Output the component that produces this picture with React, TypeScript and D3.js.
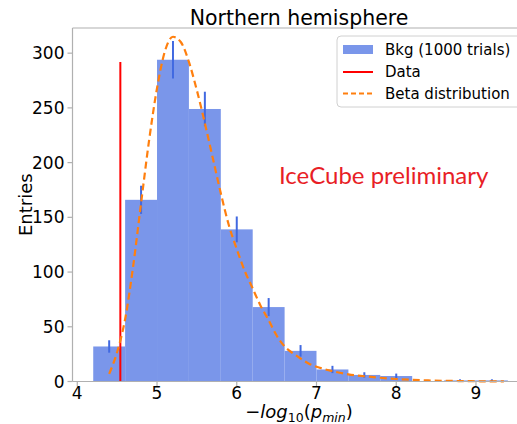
import React from "react";
import * as d3 from "d3";

// Histogram of background trials (bin edges and counts)
const binEdges = [4.2, 4.6, 5.0, 5.4, 5.8, 6.2, 6.6, 7.0, 7.4, 7.8, 8.2, 8.6, 9.0, 9.4];
const binCounts = [32, 166, 294, 249, 139, 68, 28, 11, 6, 5, 0, 1, 1];

// Observed data value
const dataX = 4.54;
const dataHeight = 292;

// Beta distribution curve, sampled
const betaX = [4.4, 4.5, 4.6, 4.7, 4.8, 4.9, 5.0, 5.1, 5.2, 5.3, 5.4, 5.5, 5.6, 5.7, 5.8, 5.9, 6.0, 6.1, 6.2, 6.3, 6.4, 6.5, 6.6, 6.7, 6.8, 6.9, 7.0, 7.2, 7.4, 7.6, 7.8, 8.0, 8.4, 8.8, 9.35];
const betaY = [7, 27, 57, 105, 163, 220, 268, 302, 315, 310, 292, 266, 236, 204, 172, 143, 121, 101, 85, 69, 56, 42, 32, 26, 21, 16.5, 13.5, 9.5, 6.5, 4.8, 3.4, 2.3, 1.0, 0.4, 0.1];

const xTicks = [4, 5, 6, 7, 8, 9];
const yTicks = [0, 50, 100, 150, 200, 250, 300];

const W = 517;
const H = 424;
const FONT = "'DejaVu Sans', sans-serif";

export default function App() {
  const x = d3.scaleLinear().domain([3.94, 9.66]).range([72.5, 528.6]);
  const y = d3.scaleLinear().domain([0, 323]).range([381.5, 28]);
  const left = x.range()[0];
  const right = x.range()[1];
  const bottom = y.range()[0];
  const top = y.range()[1];

  const bins = binCounts.map((c, i) => ({ x0: binEdges[i], x1: binEdges[i + 1], c }));
  const betaPts = betaX.map((v, i) => [v, betaY[i]] as [number, number]);
  const line = d3
    .line<[number, number]>()
    .x((d) => x(d[0]))
    .y((d) => y(d[1]))
    .curve(d3.curveMonotoneX);

  const barFill = "rgb(122,150,234)";
  const errColor = "rgb(65,105,225)";
  const spine = "#b0b0b0";

  return (
    <svg
      width={W}
      height={H}
      style={{ position: "absolute", left: 0, top: 0, display: "block", background: "#fff" }}
    >
      <rect x={0} y={0} width={W} height={H} fill="#fff" />
      {/* histogram bars */}
      {bins.map((b, i) =>
        b.c > 0 ? (
          <rect
            key={"b" + i}
            x={x(b.x0)}
            y={y(b.c)}
            width={x(b.x1) - x(b.x0)}
            height={bottom - y(b.c)}
            fill={barFill}
          />
        ) : null
      )}
      {/* sqrt(N) error bars */}
      {bins.map((b, i) =>
        b.c > 0 ? (
          <line
            key={"e" + i}
            x1={x((b.x0 + b.x1) / 2)}
            x2={x((b.x0 + b.x1) / 2)}
            y1={y(b.c + Math.sqrt(b.c))}
            y2={y(b.c - Math.sqrt(b.c))}
            stroke={errColor}
            strokeWidth={2}
          />
        ) : null
      )}
      {/* data line */}
      <line x1={x(dataX)} x2={x(dataX)} y1={y(0)} y2={y(dataHeight)} stroke="#ff0000" strokeWidth={2} />
      {/* beta distribution */}
      <path
        d={line(betaPts) || ""}
        fill="none"
        stroke="#ff7f0e"
        strokeWidth={2.2}
        strokeDasharray="7,4"
      />

      {/* spines */}
      <line x1={left} x2={left} y1={top} y2={bottom} stroke={spine} strokeWidth={1.2} />
      <line x1={left} x2={right} y1={bottom} y2={bottom} stroke={spine} strokeWidth={1.2} />
      <line x1={left} x2={right} y1={top} y2={top} stroke={spine} strokeWidth={1.2} />
      <line x1={right} x2={right} y1={top} y2={bottom} stroke={spine} strokeWidth={1.2} />

      {/* x ticks */}
      {xTicks.map((t) => (
        <g key={"xt" + t}>
          <line x1={x(t)} x2={x(t)} y1={bottom} y2={bottom + 5} stroke={spine} strokeWidth={1.2} />
          <text x={x(t)} y={bottom + 17} textAnchor="middle" fontFamily={FONT} fontSize={17} fill="#000">
            {t}
          </text>
        </g>
      ))}
      {/* y ticks */}
      {yTicks.map((t) => (
        <g key={"yt" + t}>
          <line x1={left - 5} x2={left} y1={y(t)} y2={y(t)} stroke={spine} strokeWidth={1.2} />
          <text x={left - 8} y={y(t) + 6} textAnchor="end" fontFamily={FONT} fontSize={17} fill="#000">
            {t}
          </text>
        </g>
      ))}

      {/* title */}
      <text x={299} y={25} textAnchor="middle" fontFamily={FONT} fontSize={20.5} fill="#000">
        Northern hemisphere
      </text>

      {/* axis labels */}
      <text x={299} y={418} textAnchor="middle" fontFamily={FONT} fontSize={18} fill="#000">
        <tspan>−</tspan>
        <tspan fontStyle="italic">log</tspan>
        <tspan fontSize={12.5} dy={4}>10</tspan>
        <tspan dy={-4}>(</tspan>
        <tspan fontStyle="italic">p</tspan>
        <tspan fontStyle="italic" fontSize={12.5} dy={4}>min</tspan>
        <tspan dy={-4}>)</tspan>
      </text>
      <text
        transform={`translate(32,${(top + bottom) / 2}) rotate(-90)`}
        textAnchor="middle"
        fontFamily={FONT}
        fontSize={18}
        fill="#000"
      >
        Entries
      </text>

      {/* annotation */}
      <text x={279} y={184} fontFamily="Lato, sans-serif" fontSize={24} fill="rgb(232,30,38)">
        IceCube preliminary
      </text>

      {/* legend */}
      <g>
        <rect x={337} y={36} width={200} height={71} rx={4} fill="#fff" fillOpacity={0.85} stroke="#d0d0d0" />
        <rect x={343} y={45} width={30} height={9} fill={barFill} />
        <text x={385} y={55} fontFamily={FONT} fontSize={15} fill="#000">
          Bkg (1000 trials)
        </text>
        <line x1={343} x2={373} y1={72} y2={72} stroke="#ff0000" strokeWidth={2} />
        <text x={385} y={77} fontFamily={FONT} fontSize={15} fill="#000">
          Data
        </text>
        <line x1={343} x2={373} y1={93.5} y2={93.5} stroke="#ff7f0e" strokeWidth={2} strokeDasharray="5,3" />
        <text x={385} y={99} fontFamily={FONT} fontSize={15} fill="#000">
          Beta distribution
        </text>
      </g>
    </svg>
  );
}
